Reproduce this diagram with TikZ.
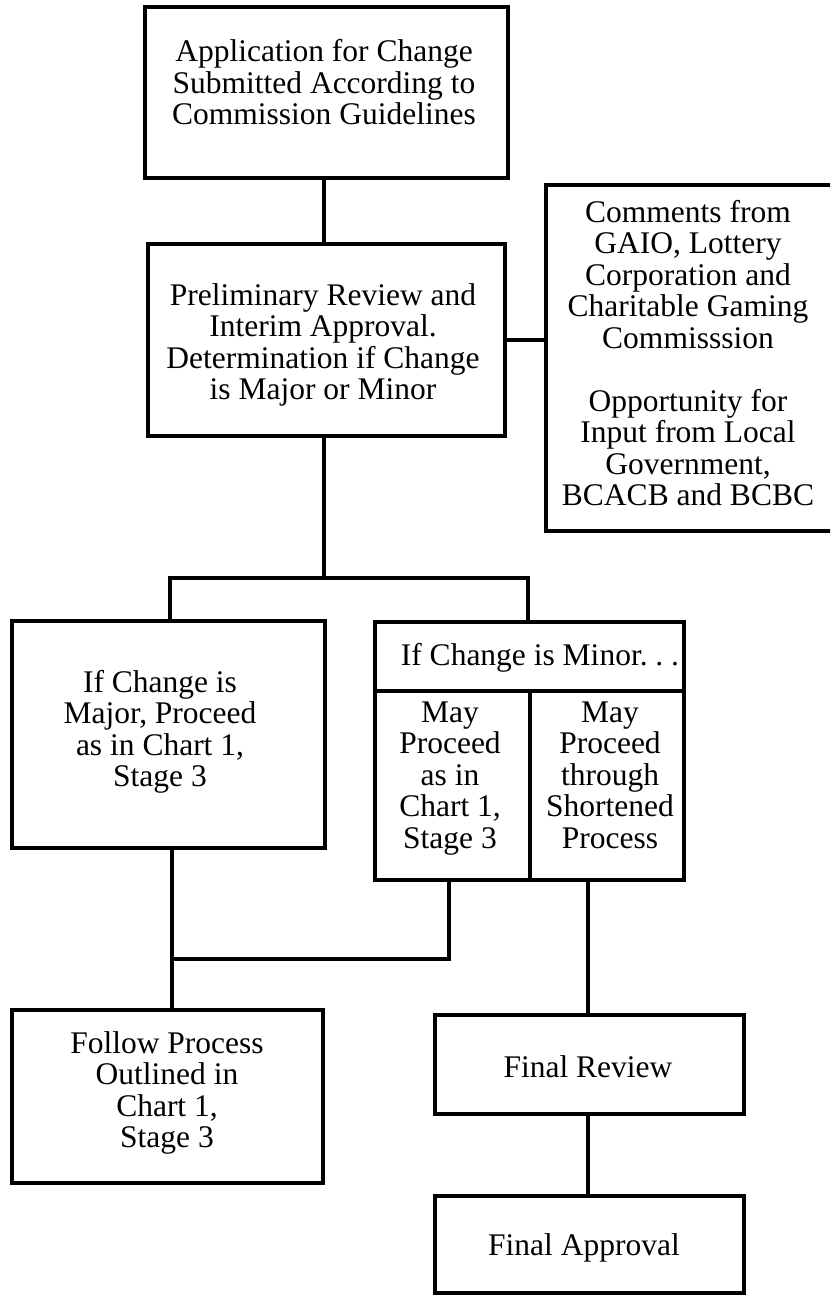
\documentclass[tikz,border=0pt]{standalone}
\usepackage{fontspec}
\setmainfont{Liberation Serif}
\begin{document}
\begin{tikzpicture}[x=1pt,y=-1pt,
  box/.style={draw=black,line width=4.3pt,rectangle,inner sep=0pt,outer sep=0pt},
  txt/.style={align=center,inner sep=0pt,outer sep=0pt,anchor=north,
    font=\fontsize{31.5}{31.5}\selectfont\frenchspacing},
  conn/.style={draw=black,line width=4pt,line join=miter}]
\useasboundingbox (0,0) rectangle (830,1297);
\clip (0,0) rectangle (830,1297);
\fill[white] (0,0) rectangle (830,1297);
% boxes
\node[box,minimum width=363pt,minimum height=171pt] (b1) at (326.5,92.5) {};
\node[box,minimum width=357pt,minimum height=192pt] (b2) at (326.5,340) {};
\node[box,minimum width=288pt,minimum height=346pt] (comm) at (690,358) {};
\node[box,minimum width=313pt,minimum height=227pt] (left) at (168.5,734.5) {};
\node[box,minimum width=309pt,minimum height=69pt] (minorH) at (529.5,656.5) {};
\node[box,minimum width=155pt,minimum height=189pt] (minorL) at (452.5,785.5) {};
\node[box,minimum width=154pt,minimum height=189pt] (minorR) at (607,785.5) {};
\node[box,minimum width=311pt,minimum height=173pt] (follow) at (167.5,1096.5) {};
\node[box,minimum width=309pt,minimum height=99pt] (review) at (589.5,1064.5) {};
\node[box,minimum width=309pt,minimum height=97pt] (approval) at (589.5,1244.5) {};
% texts
\node[txt] (t1) at (324,39.5) {Application for Change\\Submitted According to\\Commission Guidelines};
\node[txt] (t2) at (323,283.5) {Preliminary Review and\\Interim Approval.\\Determination if Change\\is Major or Minor};
\node[txt] (t3) at (688,200.2) {Comments from\\GAIO, Lottery\\Corporation and\\Charitable Gaming\\Commisssion\\[31.5pt]Opportunity for\\Input from Local\\Government,\\BCACB and BCBC};
\node[txt] (t4) at (160,670.2) {If Change is\\Major, Proceed\\as in Chart 1,\\Stage 3};
\node[txt] (t5) at (540,643.5) {If Change is Minor. . .};
\node[txt] (t6) at (450,701.4) {May\\Proceed\\as in\\Chart 1,\\Stage 3};
\node[txt] (t7) at (610,701.4) {May\\Proceed\\through\\Shortened\\Process};
\node[txt] (t8) at (167,1031.2) {Follow Process\\Outlined in\\Chart 1,\\Stage 3};
\node[txt] (t9) at (588,1055.2) {Final Review};
\node[txt] (t10) at (584,1233.5) {Final Approval};
% junctions
\coordinate (jT) at (324,578);
\coordinate (jL) at (170,578);
\coordinate (jR) at (528,578);
\coordinate (jB) at (172,959);
\coordinate (jM) at (449,959);
\coordinate (jF) at (588,959);
% connectors
\draw[conn] (b1.south -| jT) -- (b2.north -| jT);
\draw[conn] (b2.east) -- (comm.west |- b2.east);
\draw[conn] (b2.south -| jT) -- (jT);
\draw[conn] (jL |- left.north) -- (jL) -- (jR) -- (jR |- minorH.north);
\draw[conn] (left.south -| jB) -- (follow.north -| jB);
\draw[conn] (minorL.south -| jM) -- (jM) -- (jB);
\draw[conn] (minorR.south -| jF) -- (review.north -| jF);
\draw[conn] (review.south -| jF) -- (approval.north -| jF);
\end{tikzpicture}
\end{document}
